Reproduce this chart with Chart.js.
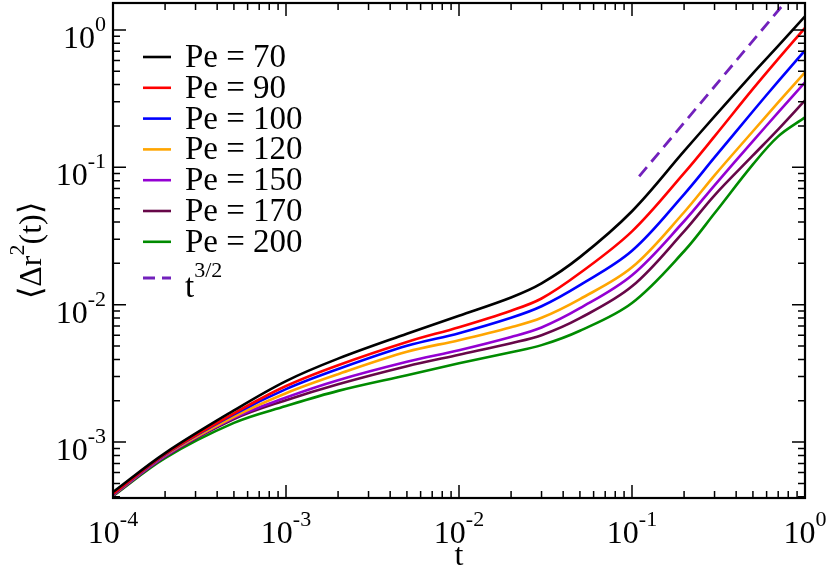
<!DOCTYPE html>
<html>
<head>
<meta charset="utf-8">
<script src="https://cdn.jsdelivr.net/npm/chart.js@4.4.0/dist/chart.umd.min.js"></script>
<style>
  html, body { margin: 0; padding: 0; background: #fff; }
</style>
</head>
<body>
<canvas id="msdChart" width="830" height="573"></canvas>
<script>
// sampling times
const times = [1e-4, 2e-4, 5e-4, 1e-3, 2e-3, 5e-3, 1e-2, 2e-2, 3e-2, 5e-2, 0.1, 0.2, 0.3, 0.5, 0.7, 1];

const pe70  = [4.33e-4, 8.32e-4, 1.70e-3, 2.78e-3, 4.05e-3, 6.15e-3, 8.32e-3, 1.13e-2, 1.43e-2, 2.22e-2, 4.79e-2, 0.131, 0.235, 0.483, 0.765, 1.254];
const pe90  = [4.19e-4, 8.18e-4, 1.62e-3, 2.56e-3, 3.63e-3, 5.36e-3, 6.86e-3, 9.05e-3, 1.11e-2, 1.70e-2, 3.42e-2, 9.07e-2, 0.168, 0.372, 0.615, 1.034];
const pe100 = [4.15e-4, 8.11e-4, 1.59e-3, 2.43e-3, 3.40e-3, 5.02e-3, 6.21e-3, 8.04e-3, 9.75e-3, 1.39e-2, 2.47e-2, 6.36e-2, 0.118, 0.256, 0.422, 0.709];
const pe120 = [4.12e-4, 8.04e-4, 1.53e-3, 2.27e-3, 3.12e-3, 4.54e-3, 5.52e-3, 6.86e-3, 8.04e-3, 1.10e-2, 1.87e-2, 4.71e-2, 8.74e-2, 0.183, 0.297, 0.491];
const pe150 = [4.12e-4, 7.91e-4, 1.50e-3, 2.11e-3, 2.82e-3, 3.84e-3, 4.67e-3, 5.83e-3, 6.83e-3, 9.43e-3, 1.64e-2, 4.05e-2, 7.40e-2, 0.155, 0.251, 0.415];
const pe170 = [4.08e-4, 7.84e-4, 1.47e-3, 2.02e-3, 2.64e-3, 3.57e-3, 4.33e-3, 5.25e-3, 6.00e-3, 7.98e-3, 1.36e-2, 3.42e-2, 6.26e-2, 0.122, 0.189, 0.307];
const pe200 = [4.05e-4, 7.65e-4, 1.38e-3, 1.83e-3, 2.36e-3, 3.07e-3, 3.75e-3, 4.51e-3, 5.08e-3, 6.47e-3, 1.03e-2, 2.45e-2, 4.63e-2, 0.105, 0.168, 0.231];

// guide line t^{3/2}
const guideT = [0.11, 0.8];
const guideY = [0.086, 1.69];

const seriesLabels = ['Pe = 70', 'Pe = 90', 'Pe = 100', 'Pe = 120', 'Pe = 150', 'Pe = 170', 'Pe = 200', 't^3/2'];
const seriesColors = ['#000000', '#ff0000', '#0000ff', '#ffa500', 'rgb(148,0,211)', 'rgb(103,7,72)', 'rgb(0,139,0)', 'rgb(114,33,188)'];

// axis tick labels (decade exponents)
const xDecades = [-4, -3, -2, -1, 0];
const yDecades = [-3, -2, -1, 0];

const serif = '"Liberation Serif", "Times New Roman", serif';
const bigFont = '32px ' + serif;
const supFont = '22px ' + serif;
const legendFont = '33px ' + serif;

function toPoints(xs, ys) {
    return xs.map((t, i) => ({ x: t, y: ys[i] }));
}

const allSeries = [pe70, pe90, pe100, pe120, pe150, pe170, pe200];
const datasets = allSeries.map((s, i) => ({
    label: seriesLabels[i],
    data: toPoints(times, s),
    borderColor: seriesColors[i],
    borderWidth: 2.6,
    pointRadius: 0,
    tension: 0.35,
    fill: false
}));
datasets.push({
    label: seriesLabels[7],
    data: toPoints(guideT, guideY),
    borderColor: seriesColors[7],
    borderWidth: 2.8,
    borderDash: [12, 7],
    pointRadius: 0,
    fill: false
});

// "10" with a raised exponent
function drawPower(ctx, base, exp, x, y, align) {
    ctx.font = bigFont;
    const wb = ctx.measureText(base).width;
    ctx.font = supFont;
    const we = ctx.measureText(exp).width;
    let x0 = x;
    if (align === 'center') x0 = x - (wb + we) / 2;
    if (align === 'right') x0 = x - wb - we;
    ctx.font = bigFont;
    ctx.fillText(base, x0, y);
    ctx.font = supFont;
    ctx.fillText(exp, x0 + wb, y - 17);
}

const framePlugin = {
    id: 'frame',
    afterDraw(chart) {
        const { ctx, chartArea: a, scales: { x, y } } = chart;
        ctx.save();
        ctx.strokeStyle = '#000';
        ctx.fillStyle = '#000';
        ctx.lineCap = 'butt';

        // ticks on all four sides, pointing inwards
        ctx.lineWidth = 1.5;
        ctx.beginPath();
        for (let e = -4; e <= 0; e++) {
            for (let m = 1; m <= 9; m++) {
                const v = m * Math.pow(10, e);
                const len = m === 1 ? 13 : 7;
                if (v >= x.min && v <= x.max) {
                    const px = x.getPixelForValue(v);
                    ctx.moveTo(px, a.bottom); ctx.lineTo(px, a.bottom - len);
                    ctx.moveTo(px, a.top); ctx.lineTo(px, a.top + len);
                }
                if (v >= y.min && v <= y.max) {
                    const py = y.getPixelForValue(v);
                    ctx.moveTo(a.left, py); ctx.lineTo(a.left + len, py);
                    ctx.moveTo(a.right, py); ctx.lineTo(a.right - len, py);
                }
            }
        }
        ctx.stroke();

        ctx.lineWidth = 2.2;
        ctx.strokeRect(a.left, a.top, a.right - a.left, a.bottom - a.top);

        // tick labels
        ctx.textBaseline = 'alphabetic';
        ctx.textAlign = 'left';
        xDecades.forEach(e => {
            drawPower(ctx, '10', String(e), x.getPixelForValue(Math.pow(10, e)), a.bottom + 45, 'center');
        });
        yDecades.forEach(e => {
            drawPower(ctx, '10', String(e), a.left - 7, y.getPixelForValue(Math.pow(10, e)) + 18, 'right');
        });

        // axis titles
        ctx.font = bigFont;
        ctx.textAlign = 'center';
        ctx.fillText('t', (a.left + a.right) / 2, 565);

        ctx.save();
        ctx.translate(41, (a.top + a.bottom) / 2);
        ctx.rotate(-Math.PI / 2);
        ctx.textAlign = 'left';
        const p1 = '\u27E8\u0394r', p2 = '2', p3 = '(t)\u27E9';
        ctx.font = bigFont; const w1 = ctx.measureText(p1).width; const w3 = ctx.measureText(p3).width;
        ctx.font = supFont; const w2 = ctx.measureText(p2).width;
        let sx = -(w1 + w2 + w3) / 2;
        ctx.font = bigFont; ctx.fillText(p1, sx, 0); sx += w1;
        ctx.font = supFont; ctx.fillText(p2, sx, -17); sx += w2;
        ctx.font = bigFont; ctx.fillText(p3, sx, 0);
        ctx.restore();

        // legend
        const rows = [57, 87.8, 118.6, 149.4, 180.2, 211, 241.8, 278];
        chart.data.datasets.forEach((ds, i) => {
            const cy = rows[i];
            ctx.strokeStyle = ds.borderColor;
            ctx.lineWidth = ds.borderWidth;
            ctx.setLineDash(ds.borderDash || []);
            ctx.beginPath();
            ctx.moveTo(143, cy); ctx.lineTo(171, cy);
            ctx.stroke();
            ctx.setLineDash([]);
            ctx.fillStyle = '#000';
            ctx.textAlign = 'left';
            const parts = ds.label.split('^');
            if (parts.length > 1) {
                ctx.font = legendFont;
                const wt = ctx.measureText(parts[0]).width;
                ctx.fillText(parts[0], 185, cy + 19);
                ctx.font = supFont;
                ctx.fillText(parts[1], 185 + wt, cy - 1);
            } else {
                ctx.font = legendFont;
                ctx.fillText(ds.label, 185, cy + 10);
            }
        });
        ctx.restore();
    }
};

function build() {
    new Chart(document.getElementById('msdChart').getContext('2d'), {
        type: 'line',
        data: { datasets: datasets },
        options: {
            responsive: false,
            animation: false,
            layout: { padding: { left: 0, right: 25, top: 3, bottom: 0 } },
            plugins: {
                legend: { display: false },
                tooltip: { enabled: false }
            },
            scales: {
                x: {
                    type: 'logarithmic',
                    min: 1e-4,
                    max: 1,
                    ticks: { display: false },
                    grid: { display: false },
                    border: { display: false },
                    afterFit(scale) { scale.height = 75; }
                },
                y: {
                    type: 'logarithmic',
                    min: 3.92e-4,
                    max: 1.57,
                    ticks: { display: false },
                    grid: { display: false },
                    border: { display: false },
                    afterFit(scale) { scale.width = 113; }
                }
            }
        },
        plugins: [framePlugin]
    });
}

if (document.fonts && document.fonts.load) {
    Promise.all([document.fonts.load(bigFont), document.fonts.load(supFont), document.fonts.load(legendFont)]).then(build, build);
} else {
    build();
}
</script>
</body>
</html>
